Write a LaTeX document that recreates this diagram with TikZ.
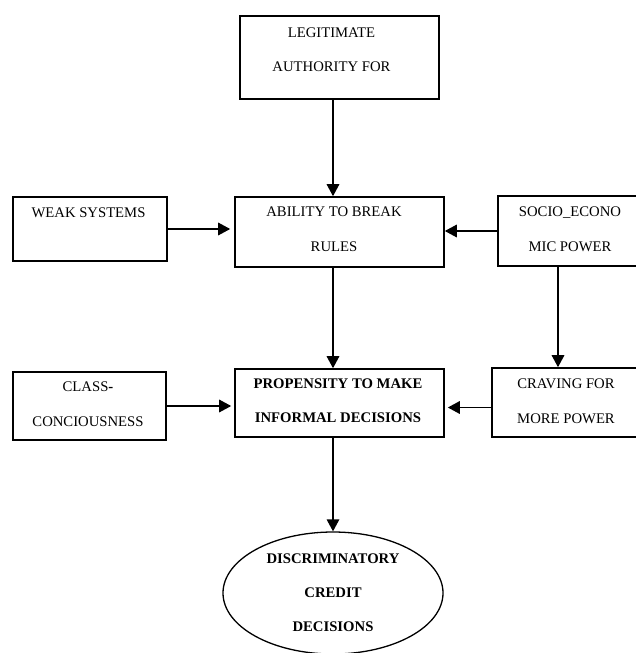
\documentclass[tikz,border=0pt]{standalone}
\usepackage{fontspec}
\setmainfont{Liberation Serif}
\usetikzlibrary{arrows.meta,shapes.geometric}
\tikzset{
  box/.style={draw=black, line width=1.6pt, rectangle, inner sep=0pt},
  oval/.style={draw=black, line width=1.3pt, ellipse, inner sep=0pt, minimum width=220pt, minimum height=122pt},
  lbl/.style={align=center, inner sep=0pt, font=\fontsize{14.7}{34.5}\selectfont},
  blbl/.style={align=center, inner sep=0pt, font=\fontsize{14.7}{34}\selectfont\bfseries},
  arr/.style={draw=black, line width=1.6pt, -{Triangle[length=12pt,width=12.5pt]}}
}

\begin{document}
\begin{tikzpicture}[x=1pt,y=-1pt]
  \useasboundingbox (0,0) rectangle (636,653);

  % boxes
  \node[box, minimum width=199pt, minimum height=83pt] (legit) at (339.5,57.5) {};
  \node[box, minimum width=154pt, minimum height=64pt] (weak) at (90,229) {};
  \node[box, minimum width=209pt, minimum height=70pt] (ability) at (339.5,232) {};
  \node[box, minimum width=143pt, minimum height=70pt] (socio) at (569.5,231) {};
  \node[box, minimum width=153pt, minimum height=68pt] (class) at (89.5,406) {};
  \node[box, minimum width=209pt, minimum height=68pt] (propensity) at (339.5,403) {};
  \node[box, minimum width=148pt, minimum height=69pt] (craving) at (566,402.5) {};
  \node[oval, blbl] (disc) at (333,593) {DISCRIMINATORY\\CREDIT\\DECISIONS};

  % texts
  \node[lbl] (legit-t) at (331.5,49.5) {LEGITIMATE\\AUTHORITY FOR};
  \node[lbl] (weak-t) at (88.5,213) {WEAK SYSTEMS};
  \node[lbl] (ability-t) at (334,229) {ABILITY TO BREAK\\RULES};
  \node[lbl] (socio-t) at (570,229) {SOCIO\_ECONO\\MIC POWER};
  \node[lbl] (class-t) at (88,404) {CLASS\textbf{-}\\CONCIOUSNESS};
  \node[blbl] (propensity-t) at (338,401) {PROPENSITY TO MAKE\\INFORMAL DECISIONS};
  \node[lbl] (craving-t) at (566,401) {CRAVING FOR\\MORE POWER};

  % arrows
  \draw[arr] (legit.south -| disc.north) -- (ability.north -| disc.north);
  \draw[arr, shorten >=4pt] (weak.east) -- (weak.east -| ability.west);
  \draw[arr] (socio.west) -- (socio.west -| ability.east);
  \draw[arr] (ability.south -| disc.north) -- (propensity.north -| disc.north);
  \draw[arr] ([xshift=-11.5pt]socio.south) -- ([xshift=-11.5pt]socio.south |- craving.north);
  \draw[arr, shorten >=3pt] (class.east) -- (class.east -| propensity.west);
  \draw[arr, shorten >=3pt] ([yshift=-5pt]craving.west) -- ([yshift=-5pt]craving.west -| propensity.east);
  \draw[arr] (propensity.south -| disc.north) -- (disc.north);
\end{tikzpicture}
\end{document}
